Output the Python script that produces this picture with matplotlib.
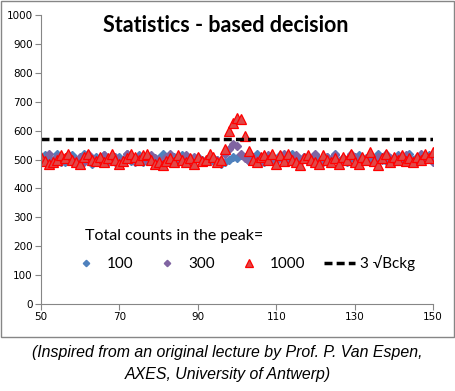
import matplotlib.pyplot as plt
from matplotlib.patches import Rectangle

channels = list(range(50, 151))

counts_100 = [500, 515, 505, 495, 520, 510, 490, 505, 515, 500,
              495, 520, 505, 485, 510, 500, 515, 495, 505, 490,
              510, 500, 520, 495, 505, 515, 490, 500, 510, 485,
              505, 520, 495, 500, 510, 490, 515, 500, 505, 495,
              510, 500, 490, 505, 495, 500, 485, 490, 500, 510,
              505, 515, 510, 495, 500, 520, 505, 490, 510, 500,
              495, 515, 500, 505, 520, 490, 500, 510, 495, 505,
              515, 500, 490, 510, 500, 520, 495, 505, 490, 510,
              500, 515, 495, 505, 490, 500, 520, 510, 495, 505,
              500, 515, 490, 505, 520, 500, 510, 495, 505, 515,
              500]

counts_300 = [505, 495, 520, 500, 510, 490, 505, 515, 495, 500,
              510, 490, 520, 505, 495, 500, 515, 490, 505, 510,
              495, 500, 520, 505, 490, 510, 500, 495, 515, 505,
              500, 490, 510, 520, 495, 505, 500, 515, 490, 510,
              505, 495, 500, 510, 505, 500, 495, 520, 535, 552,
              545, 520, 505, 495, 510, 500, 490, 505, 515, 500,
              495, 510, 520, 505, 500, 515, 490, 510, 505, 500,
              520, 495, 505, 510, 500, 515, 490, 505, 500, 520,
              510, 495, 505, 500, 515, 490, 510, 500, 520, 505,
              495, 510, 500, 515, 505, 490, 500, 520, 510, 505,
              490]

counts_1000 = [510, 495, 485, 490, 500, 515, 505, 520, 500, 490,
               485, 510, 520, 500, 495, 510, 490, 505, 520, 500,
               485, 495, 505, 520, 510, 500, 515, 520, 500, 485,
               490, 480, 495, 505, 490, 515, 500, 490, 505, 485,
               510, 495, 500, 520, 510, 490, 500, 538, 597, 625,
               642, 639, 580, 531, 500, 490, 510, 515, 500, 520,
               485, 515, 495, 520, 500, 490, 480, 505, 515, 500,
               490, 485, 515, 500, 490, 505, 485, 510, 500, 520,
               490, 485, 510, 500, 525, 495, 480, 505, 520, 490,
               510, 500, 515, 495, 505, 490, 510, 500, 520, 505,
               525]

threshold = 570

W, H = 455, 391
fig = plt.figure(figsize=(W / 100, H / 100), dpi=100)
ax = fig.add_axes([41 / W, 1 - 304 / H, 392 / W, 289 / H])

# outer chart border (caption sits below it)
fig.patches.append(Rectangle((0.5 / W, 1 - 337 / H), 453.5 / W, 336 / H,
                             transform=fig.transFigure, fill=False,
                             edgecolor='#868686', linewidth=1))

ax.plot(channels, counts_100, linestyle='none', marker='D', markersize=4.3,
        color='#4F81BD', label='100')
ax.plot(channels, counts_300, linestyle='none', marker='D', markersize=4.3,
        color='#8064A2', label='300')
ax.plot(channels, counts_1000, linestyle='none', marker='^', markersize=6.8,
        markerfacecolor='#E04848', markeredgecolor='#FF0000', markeredgewidth=0.9,
        label='1000')
ax.plot(channels, [threshold] * len(channels), color='black', linewidth=2.5,
        linestyle=(0, (2.3, 1.2)), label='3 \u221aBckg')

ax.set_xlim(50, 150)
ax.set_ylim(0, 1000)
ax.set_xticks(range(50, 151, 20))
ax.set_yticks(range(0, 1001, 100))
ax.spines['top'].set_visible(False)
ax.spines['right'].set_visible(False)
for s in ['left', 'bottom']:
    ax.spines[s].set_color('#868686')
ax.tick_params(direction='out', length=4, color='#868686', labelsize=7.5, pad=2)

fig.text(226 / W, 1 - 25 / H, 'Statistics - based decision',
         ha='center', va='center', fontsize=15.5, fontweight='bold', family='Lato')

ax.text((85 - 41) / 392, (304 - 236) / 289, 'Total counts in the peak=',
        transform=ax.transAxes, ha='left', va='center', fontsize=11.5, family='Lato')

leg = ax.legend(loc='center left', bbox_to_anchor=((70.5 - 41) / 392, (304 - 263) / 289),
                ncol=4, frameon=False, prop={'family': 'Lato', 'size': 11},
                handlelength=2.03, columnspacing=1.2, handletextpad=0.36,
                markerscale=0.75, borderpad=0, borderaxespad=0)

fig.text(0.5, 1 - 353 / H, '(Inspired from an original lecture by Prof. P. Van Espen,',
         ha='center', va='center', fontsize=11.4, style='italic', family='Liberation Sans')
fig.text(0.5, 1 - 374 / H, 'AXES, University of Antwerp)',
         ha='center', va='center', fontsize=11.4, style='italic', family='Liberation Sans')

fig.savefig('out.png', dpi=100)
